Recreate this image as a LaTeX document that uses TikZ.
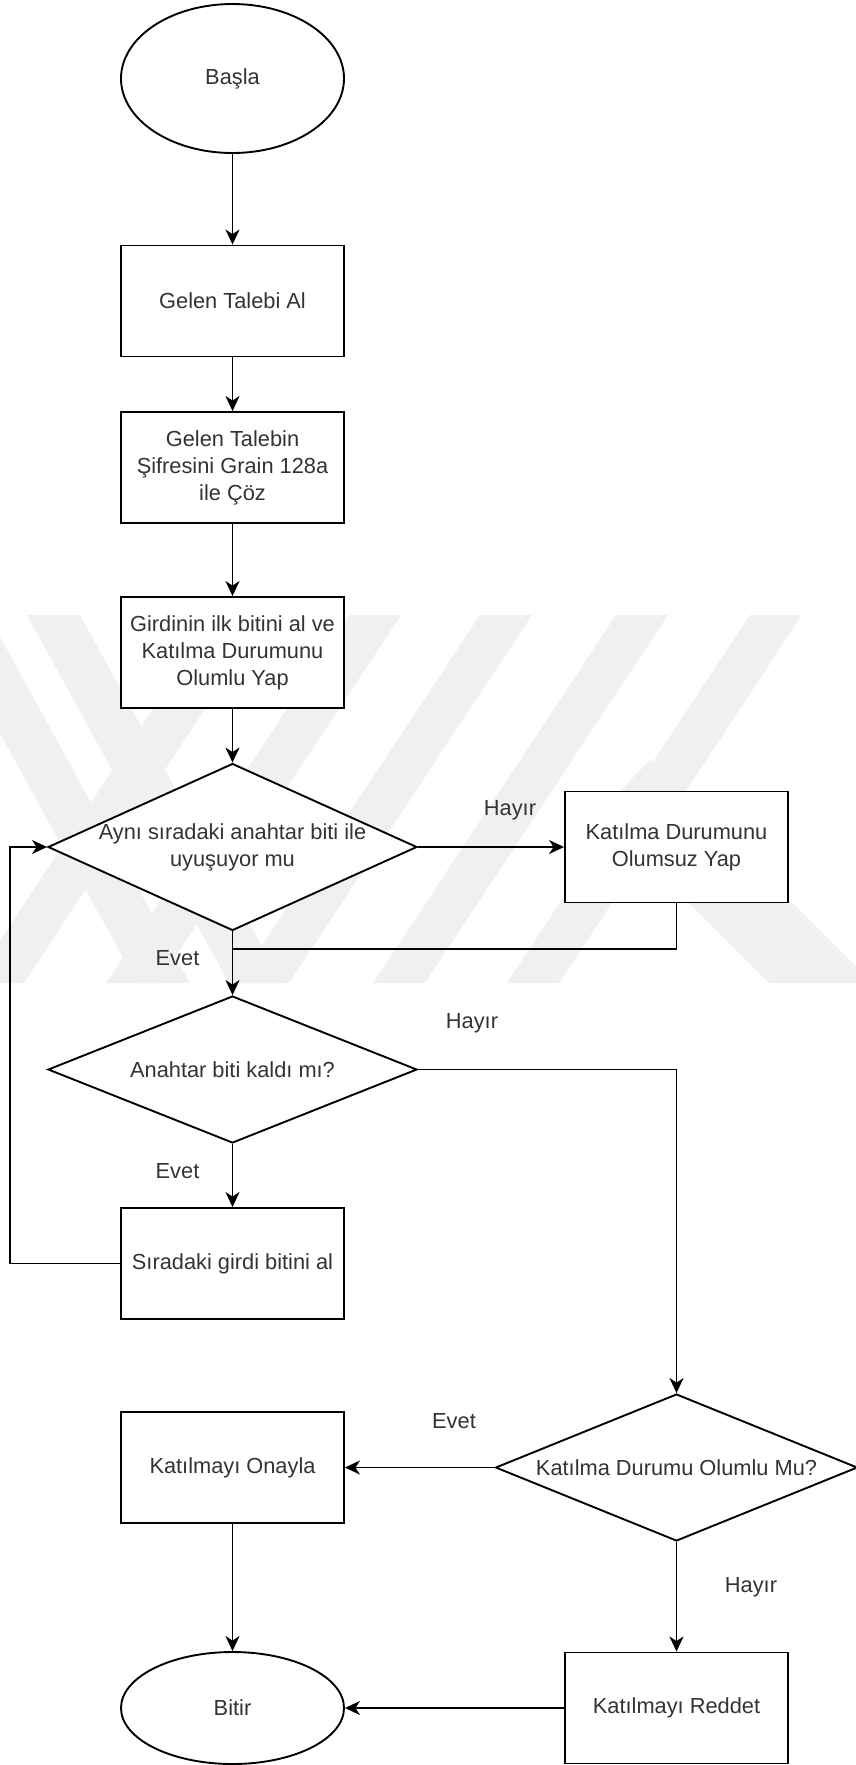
\documentclass[tikz,border=0pt]{standalone}
\usepackage{fontspec}
\setmainfont{Liberation Sans}
\usetikzlibrary{arrows.meta,shapes.geometric}
\begin{document}
\begin{tikzpicture}[x=1pt,y=-1pt,
  every node/.style={font=\fontsize{21.8}{27}\selectfont, text=black!80},
  box/.style={draw=black, fill=white, line width=1.9pt, rectangle, minimum width=223pt, minimum height=111pt, inner sep=0pt, align=center},
  oval/.style={draw=black, fill=white, line width=1.9pt, ellipse, minimum width=223pt, inner sep=0pt},
  decision/.style={draw=black, fill=white, line width=1.9pt, diamond, inner sep=0pt},
  txt/.style={align=center, inner sep=0pt},
  lbl/.style={inner sep=0pt},
  arr/.style={line width=1.9pt, -{Stealth[length=15pt,width=14pt,inset=4.5pt]}},
  link/.style={line width=1.9pt},
  band/.style={fill=black!6, draw=none}
]
\useasboundingbox[fill=white] (0,0) rectangle (856,1765);

% faint striped background mark
\fill[band] (215,615) -- (267,615) -- (24,983) -- (-28,983) -- cycle;
\fill[band] (349,615) -- (401,615) -- (158,983) -- (106,983) -- cycle;
\fill[band] (480,615) -- (532,615) -- (289,983) -- (237,983) -- cycle;
\fill[band] (616,615) -- (668,615) -- (425,983) -- (373,983) -- cycle;
\fill[band] (750,615) -- (802,615) -- (559,983) -- (507,983) -- cycle;
\fill[band] (27,615) -- (80,615) -- (282,983) -- (229,983) -- cycle;
\fill[band] (-65,615) -- (-12,615) -- (190,983) -- (137,983) -- cycle;
\fill[band] (650,760) -- (856,966) -- (856,983) -- (769,983) -- (599,813) -- cycle;

% shapes
\node[oval, minimum height=149pt] (start) at (232.5,78.5) {Başla};
\node[box] (b1) at (232.5,301) {Gelen Talebi Al};
\node[box] (b2) at (232.5,467.5) {Gelen Talebin\\Şifresini Grain 128a\\ile Çöz};
\node[box] (b3) at (232.5,652.5) {Girdinin ilk bitini al ve\\Katılma Durumunu\\Olumlu Yap};
\node[decision, minimum width=369pt, minimum height=167pt] (d1) at (232.5,847) {};
\node[txt] (d1t) at (232.5,847.5) {Aynı sıradaki anahtar biti ile\\uyuşuyor mu};
\node[box] (b4) at (676.5,847) {Katılma Durumunu\\Olumsuz Yap};
\node[decision, minimum width=369pt, minimum height=147pt] (d2) at (232.5,1069.5) {};
\node[txt] (d2t) at (232.5,1069.5) {Anahtar biti kaldı mı?};
\node[box] (b5) at (232.5,1263.5) {Sıradaki girdi bitini al};
\node[decision, minimum width=362pt, minimum height=147pt] (d3) at (676.5,1467.5) {};
\node[txt] (d3t) at (676.5,1467.5) {Katılma Durumu Olumlu Mu?};
\node[box] (b6) at (232.5,1467.5) {Katılmayı Onayla};
\node[box] (b7) at (676.5,1708) {Katılmayı Reddet};
\node[oval, minimum height=112pt] (end) at (232.5,1708) {Bitir};

% edge labels
\node[lbl] (l1) at (510,810) {Hayır};
\node[lbl] (l2) at (177.5,958) {Evet};
\node[lbl] (l3) at (472,1023) {Hayır};
\node[lbl] (l4) at (177.5,1171) {Evet};
\node[lbl] (l5) at (454,1421) {Evet};
\node[lbl] (l6) at (751,1587) {Hayır};

% connectors
\coordinate (merge) at (232.5,949);
\draw[arr] (start) -- (b1);
\draw[arr] (b1) -- (b2);
\draw[arr] (b2) -- (b3);
\draw[arr] (b3) -- (d1.north);
\draw[arr] (d1.east) -- (b4.west);
\draw[link] (b4.south) |- (merge);
\draw[arr] (d1.south) -- (d2.north);
\draw[arr] (d2.south) -- (b5.north);
\draw[arr] (b5.west) -- ++(-110,0) |- (d1.west);
\draw[arr] (d2.east) -| (d3.north);
\draw[arr] (d3.west) -- (b6.east);
\draw[arr] (d3.south) -- (b7.north);
\draw[arr] (b6.south) -- (end.north);
\draw[arr] (b7.west) -- (end.east);
\end{tikzpicture}
\end{document}
